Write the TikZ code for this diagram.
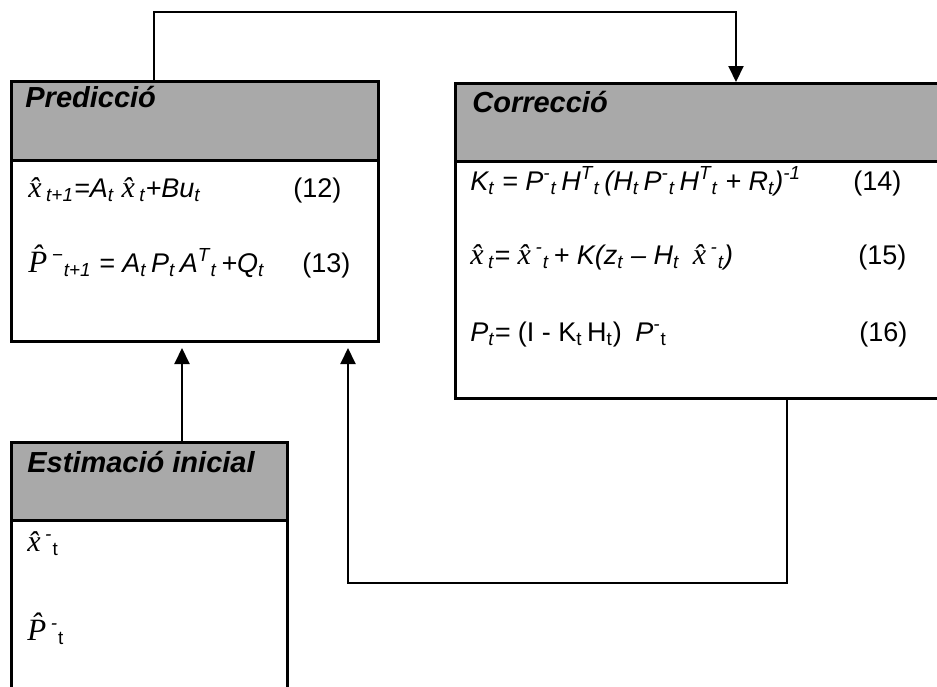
\documentclass[tikz,border=0pt]{standalone}
\usepackage{fontspec}
\setmainfont{Liberation Sans}
\newfontfamily\tms{Liberation Serif}
\usetikzlibrary{arrows.meta}
\definecolor{hdrgray}{RGB}{169,169,169}
\newcommand{\hx}{{\tms\itshape\fontsize{15}{16}\selectfont x\char"0302}}
\newcommand{\hP}{{\tms\itshape\fontsize{15.5}{16}\selectfont P\char"0302}}

\begin{document}
\begin{tikzpicture}
  [x=0.5pt, y=-0.5pt,
   box/.style={draw, line width=1.5pt, anchor=north west, inner sep=0pt},
   hdr/.style={box, fill=hdrgray},
   title/.style={anchor=base west, inner sep=0pt,
     font=\fontsize{14.5}{16}\selectfont\bfseries\itshape},
   eqn/.style={anchor=base west, inner sep=0pt,
     font=\fontsize{13.5}{15}\selectfont\itshape},
   num/.style={anchor=base west, inner sep=0pt,
     font=\fontsize{13.5}{15}\selectfont},
   link/.style={line width=1pt},
   arr/.style={link, -{Triangle[width=7.5pt,length=8pt]}}]
  \useasboundingbox (0,0) rectangle (937,686);
  \clip (0,0) rectangle (937,686);
  % Prediccio
  \node[box, minimum width=183.5pt, minimum height=130pt] (pred) at (10,80) {};
  \node[hdr, minimum width=183.5pt, minimum height=39.5pt] (predhdr) at (10,80) {};
  \node[title] (predt) at (25,107) {Predicció};
  \node[eqn] (eq12) at (28,197)
    {\hx\,\textsubscript{t+1}=A\textsubscript{t} \hx\,\textsubscript{t}+Bu\textsubscript{t}};
  \node[num] (n12) at (293,197) {(12)};
  \node[eqn] (eq13) at (28,272)
    {\hP\,\textsuperscript{−}\textsubscript{t+1} = A\textsubscript{t}\,P\textsubscript{t}\,A\textsuperscript{T}\textsubscript{t}\,+Q\textsubscript{t}};
  \node[num] (n13) at (302,272) {(13)};
  % Correccio
  \node[box, minimum width=248pt, minimum height=157.5pt] (corr) at (454,82) {};
  \node[hdr, minimum width=248pt, minimum height=39pt] (corrhdr) at (454,82) {};
  \node[title] (corrt) at (472,112) {Correcció};
  \node[eqn] (eq14) at (470,190)
    {K\textsubscript{t} = P\textsuperscript{-}\textsubscript{t}\,H\textsuperscript{T}\textsubscript{t}\,(H\textsubscript{t}\,P\textsuperscript{-}\textsubscript{t}\,H\textsuperscript{T}\textsubscript{t} + R\textsubscript{t})\textsuperscript{-1}};
  \node[num] (n14) at (853,190) {(14)};
  \node[eqn] (eq15) at (470,264)
    {\hx\,\textsubscript{t}= \hx\,\textsuperscript{-}\textsubscript{t}\,+ K(z\textsubscript{t} – H\textsubscript{t}\enspace\hx\,\textsuperscript{-}\textsubscript{t})};
  \node[num] (n15) at (858,264) {(15)};
  \node[eqn] (eq16) at (470,341)
    {P\textsubscript{t}= {\upshape (I - K\textsubscript{t}\,H\textsubscript{t})}\enspace P\textsuperscript{-}{\upshape\textsubscript{t}}};
  \node[num] (n16) at (859,341) {(16)};
  % Estimacio inicial
  \node[box, minimum width=138pt, minimum height=129.5pt] (est) at (10,441) {};
  \node[hdr, minimum width=138pt, minimum height=39pt] (esthdr) at (10,441) {};
  \node[title] (estt) at (27,472) {Estimació inicial};
  \node[eqn] (x0) at (27,551) {\hx\,\textsuperscript{-}{\upshape\textsubscript{t}}};
  \node[eqn] (p0) at (27,640) {\hP\,\textsuperscript{-}{\upshape\textsubscript{t}}};
  % links
  \draw[arr] ([xshift=72pt]predhdr.north west) -- ++(0,-68)
    -| ([xshift=141pt]corrhdr.north west);
  \draw[arr, shorten >=2.5pt] ([xshift=86pt]esthdr.north west)
    -- ([xshift=86pt]pred.south west);
  \draw[arr, shorten >=2.5pt] ([xshift=166.5pt]corr.south west) -- ++(0,183)
    -| ([xshift=169pt]pred.south west);
\end{tikzpicture}
\end{document}
